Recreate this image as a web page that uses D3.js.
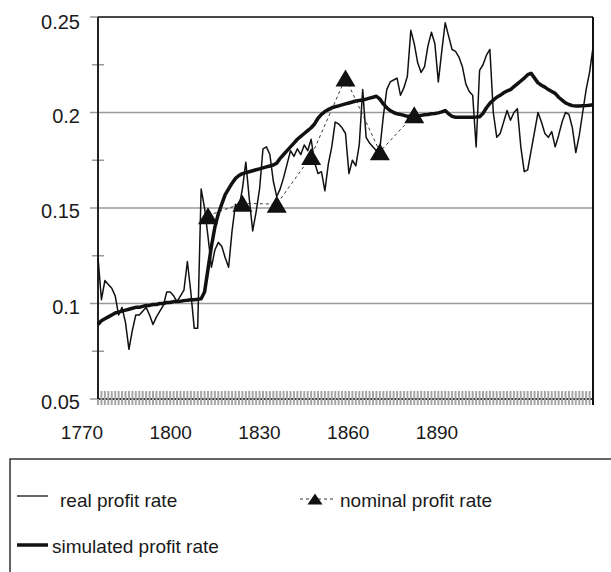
<!DOCTYPE html>
<html>
<head>
<meta charset="utf-8">
<script src="https://cdn.jsdelivr.net/npm/d3@7"></script>
<style>
  body { margin: 0; background: #fff; }
  svg { display: block; }
  text { font-family: "Liberation Sans", Arial, sans-serif; fill: #1a1a1a; }
</style>
</head>
<body>
<div id="chart"></div>
<script>
// yearly series, first value is 1768
var firstYear = 1768;
var lastYear = 1912;

var realRate = [
  0.124, 0.102, 0.112, 0.110, 0.108, 0.104, 0.094, 0.098, 0.090, 0.076,
  0.086, 0.094, 0.094, 0.096, 0.098, 0.094, 0.089, 0.093, 0.096, 0.099,
  0.106, 0.106, 0.104, 0.101, 0.104, 0.107, 0.122, 0.106, 0.087, 0.087,
  0.160, 0.150, 0.135, 0.119, 0.128, 0.132, 0.130, 0.124, 0.119, 0.138,
  0.152, 0.150, 0.160, 0.174, 0.155, 0.138, 0.148, 0.160, 0.181, 0.182,
  0.178, 0.164, 0.156, 0.160, 0.166, 0.173, 0.180, 0.177, 0.181, 0.178,
  0.183, 0.180, 0.186, 0.174, 0.168, 0.169, 0.159, 0.173, 0.182, 0.195,
  0.194, 0.192, 0.189, 0.168, 0.175, 0.172, 0.183, 0.212, 0.187, 0.184,
  0.182, 0.180, 0.181, 0.198, 0.212, 0.216, 0.217, 0.218, 0.209, 0.213,
  0.219, 0.243, 0.236, 0.226, 0.221, 0.224, 0.235, 0.242, 0.236, 0.216,
  0.232, 0.247, 0.240, 0.233, 0.232, 0.229, 0.224, 0.215, 0.211, 0.209,
  0.182, 0.222, 0.225, 0.230, 0.233, 0.200, 0.187, 0.189, 0.195, 0.201,
  0.196, 0.200, 0.202, 0.182, 0.169, 0.170, 0.180, 0.190, 0.200, 0.195,
  0.189, 0.187, 0.190, 0.182, 0.188, 0.195, 0.200, 0.199, 0.192, 0.179,
  0.188, 0.200, 0.212, 0.221, 0.234
];

var simRate = [
  0.089, 0.091, 0.092, 0.093, 0.094, 0.095, 0.0955, 0.096, 0.0965, 0.097,
  0.0975, 0.098, 0.098, 0.0985, 0.099, 0.099, 0.0995, 0.0995, 0.100, 0.100,
  0.1005, 0.1005, 0.101, 0.101, 0.1012, 0.1015, 0.1017, 0.102, 0.102, 0.1022,
  0.1025, 0.106, 0.118, 0.130, 0.140, 0.147, 0.152, 0.157, 0.160, 0.163,
  0.1655, 0.167, 0.168, 0.1685, 0.169, 0.1695, 0.170, 0.1705, 0.171, 0.1715,
  0.172, 0.1725, 0.1735, 0.176, 0.178, 0.180, 0.182, 0.184, 0.186, 0.1875,
  0.189, 0.1905, 0.192, 0.194, 0.197, 0.199, 0.2005, 0.2015, 0.2025, 0.203,
  0.2035, 0.204, 0.2045, 0.205, 0.2055, 0.206, 0.2063, 0.2065, 0.207, 0.2075,
  0.208, 0.2085, 0.207, 0.2045, 0.2025, 0.201, 0.200, 0.1993, 0.199, 0.1985,
  0.198, 0.198, 0.198, 0.1982, 0.1985, 0.1988, 0.199, 0.1993, 0.1995, 0.1998,
  0.2003, 0.201, 0.1993, 0.198, 0.1975, 0.1975, 0.1975, 0.1975, 0.1975, 0.1975,
  0.1976, 0.1978, 0.1995, 0.2025, 0.2048, 0.2065, 0.208, 0.209, 0.2103, 0.2113,
  0.212, 0.2135, 0.215, 0.2165, 0.218, 0.2198, 0.2205, 0.218, 0.2155, 0.2143,
  0.2133, 0.212, 0.211, 0.210, 0.208, 0.2065, 0.205, 0.2042, 0.2036, 0.2034,
  0.2034, 0.2035, 0.2036, 0.2038, 0.204
];

var nominalYears = [1800, 1810, 1820, 1830, 1840, 1850, 1860];
var nominalRate = [0.146, 0.1525, 0.152, 0.177, 0.218, 0.1795, 0.1988];

var yMajor = [0.05, 0.1, 0.15, 0.2, 0.25];
var yMinor = [0.075, 0.125, 0.175, 0.225];
var xLabels = [1770, 1800, 1830, 1860, 1890];

var width = 611, height = 572;
var plotLeft = 98, plotRight = 593, plotTop = 17, plotBottom = 399;

var svg = d3.select("#chart").append("svg")
    .attr("width", width)
    .attr("height", height);

var x = d3.scaleLinear().domain([firstYear, lastYear]).range([plotLeft, plotRight]);
var y = d3.scaleLinear().domain([0.05, 0.25]).range([plotBottom, plotTop]);
// year labels sit a little left of the data in the original
var xLab = d3.scaleLinear().domain([1770, 1890]).range([82, 437]);

var years = realRate.map(function(d, i) { return firstYear + i; });

// gridlines (the top one is the black frame)
svg.append("g").selectAll("line")
    .data(yMajor)
    .enter().append("line")
    .attr("x1", plotLeft - 8)
    .attr("x2", plotRight)
    .attr("y1", function(d) { return y(d); })
    .attr("y2", function(d) { return y(d); })
    .attr("stroke", "#9a9a9a")
    .attr("stroke-width", 1.5);
svg.append("line")
    .attr("x1", plotLeft).attr("x2", plotRight)
    .attr("y1", y(0.25)).attr("y2", y(0.25))
    .attr("stroke", "#222").attr("stroke-width", 1.5);

// minor y ticks
svg.append("g").selectAll("line")
    .data(yMinor)
    .enter().append("line")
    .attr("x1", plotLeft - 6)
    .attr("x2", plotLeft + 6)
    .attr("y1", function(d) { return y(d); })
    .attr("y2", function(d) { return y(d); })
    .attr("stroke", "#9a9a9a")
    .attr("stroke-width", 1.5);

// x axis: black line with a grey tick for every year
svg.append("line")
    .attr("x1", plotLeft).attr("x2", plotRight)
    .attr("y1", plotBottom).attr("y2", plotBottom)
    .attr("stroke", "#111").attr("stroke-width", 1.5);
svg.append("g").selectAll("line")
    .data(years)
    .enter().append("line")
    .attr("x1", function(d) { return x(d); })
    .attr("x2", function(d) { return x(d); })
    .attr("y1", plotBottom - 8)
    .attr("y2", plotBottom + 6)
    .attr("stroke", "#a5a5a5")
    .attr("stroke-width", 2);

// frame left and right
svg.append("line")
    .attr("x1", plotLeft).attr("x2", plotLeft)
    .attr("y1", plotTop).attr("y2", plotBottom)
    .attr("stroke", "#222").attr("stroke-width", 2);
svg.append("line")
    .attr("x1", plotRight).attr("x2", plotRight)
    .attr("y1", plotTop).attr("y2", plotBottom + 6)
    .attr("stroke", "#111").attr("stroke-width", 2);

// y labels
svg.append("g").selectAll("text")
    .data(yMajor)
    .enter().append("text")
    .attr("x", 80)
    .attr("y", function(d) { return Math.max(y(d) + 10, 29); })
    .attr("text-anchor", "end")
    .attr("font-size", 20)
    .text(function(d) { return d; });

// x labels
svg.append("g").selectAll("text")
    .data(xLabels)
    .enter().append("text")
    .attr("x", function(d) { return xLab(d); })
    .attr("y", 439)
    .attr("text-anchor", "middle")
    .attr("font-size", 19)
    .text(function(d) { return d; });

var lineGen = d3.line()
    .x(function(d) { return x(d.year); })
    .y(function(d) { return y(d.value); });

var realData = realRate.map(function(v, i) { return {year: firstYear + i, value: v}; });
var simData = simRate.map(function(v, i) { return {year: firstYear + i, value: v}; });
var nomData = nominalRate.map(function(v, i) { return {year: nominalYears[i], value: v}; });

svg.append("path")
    .attr("d", lineGen(realData))
    .attr("fill", "none")
    .attr("stroke", "#111")
    .attr("stroke-width", 1.5)
    .attr("stroke-linejoin", "round");

svg.append("path")
    .attr("d", lineGen(simData))
    .attr("fill", "none")
    .attr("stroke", "#111")
    .attr("stroke-width", 3.5)
    .attr("stroke-linejoin", "round");

svg.append("path")
    .attr("d", lineGen(nomData))
    .attr("fill", "none")
    .attr("stroke", "#222")
    .attr("stroke-width", 0.9)
    .attr("stroke-dasharray", "3,3");

function triangle(w, h) {
  return "M0," + (-h / 2) + "L" + (w / 2) + "," + (h / 2) + "L" + (-w / 2) + "," + (h / 2) + "Z";
}

svg.append("g").selectAll("path")
    .data(nomData)
    .enter().append("path")
    .attr("d", triangle(20, 17))
    .attr("transform", function(d) { return "translate(" + x(d.year) + "," + y(d.value) + ")"; })
    .attr("fill", "#111");

// legend
var legend = svg.append("g");
legend.append("rect")
    .attr("x", 10).attr("y", 459)
    .attr("width", 640).attr("height", 140)
    .attr("fill", "none")
    .attr("stroke", "#333")
    .attr("stroke-width", 1.5);

legend.append("line")
    .attr("x1", 17).attr("x2", 48).attr("y1", 496).attr("y2", 496)
    .attr("stroke", "#111").attr("stroke-width", 1.3);
legend.append("text")
    .attr("x", 60).attr("y", 507)
    .attr("font-size", 19)
    .text("real profit rate");

legend.append("line")
    .attr("x1", 300).attr("x2", 333).attr("y1", 499).attr("y2", 499)
    .attr("stroke", "#222").attr("stroke-width", 0.9)
    .attr("stroke-dasharray", "3,3");
legend.append("path")
    .attr("d", triangle(15, 11))
    .attr("transform", "translate(315,499)")
    .attr("fill", "#111");
legend.append("text")
    .attr("x", 340).attr("y", 507)
    .attr("font-size", 19)
    .text("nominal profit rate");

legend.append("line")
    .attr("x1", 17).attr("x2", 48).attr("y1", 545).attr("y2", 545)
    .attr("stroke", "#111").attr("stroke-width", 3.5);
legend.append("text")
    .attr("x", 52).attr("y", 553)
    .attr("font-size", 19)
    .text("simulated profit rate");
</script>
</body>
</html>
